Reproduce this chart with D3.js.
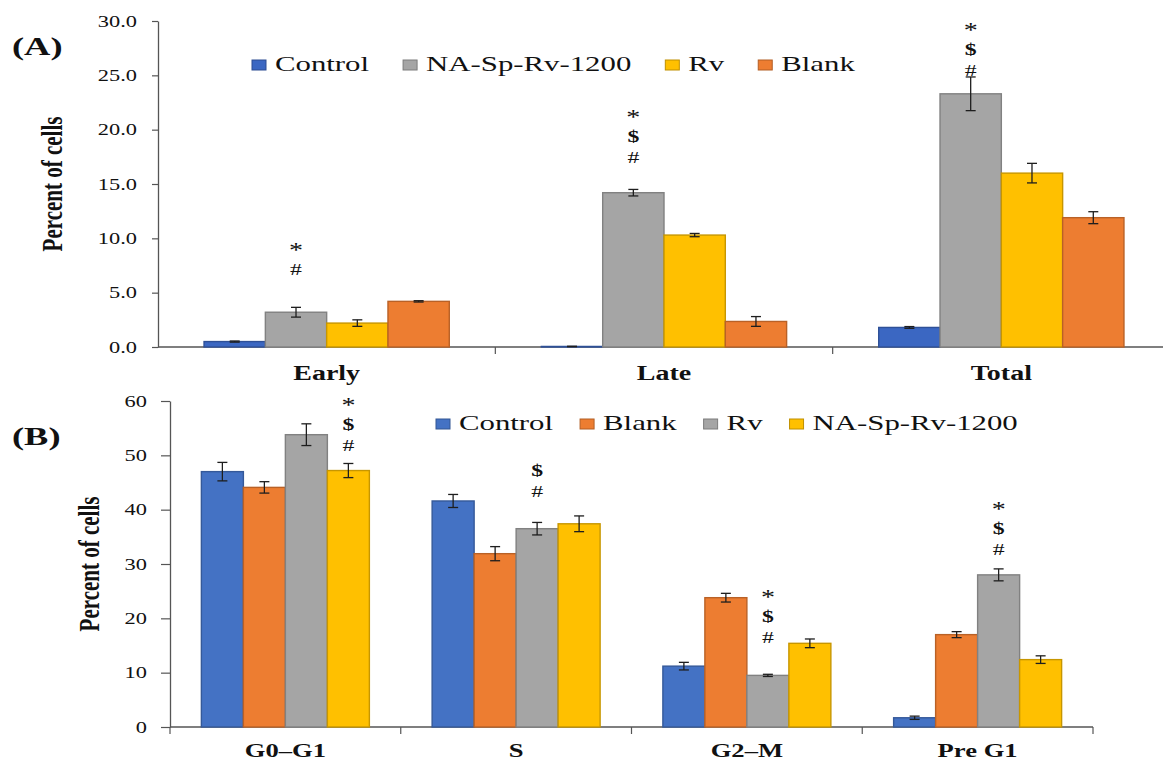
<!DOCTYPE html>
<html>
<head>
<meta charset="utf-8">
<script src="https://cdn.jsdelivr.net/npm/d3@7"></script>
<style>
  html, body { margin: 0; padding: 0; background: #ffffff; }
  svg { display: block; }
  text { font-family: "Liberation Serif", "Times New Roman", serif; fill: #111; }
</style>
</head>
<body>
<svg id="chart" width="1163" height="763"></svg>
<script>
// ---- Panel A: apoptosis stages ----
const phasesA = ["Early", "Late", "Total"];
const seriesA = ["Control", "NA-Sp-Rv-1200", "Rv", "Blank"];
const colorsA = ["#3b67c2", "#a5a5a5", "#ffc000", "#ed7d31"];
const controlA = [0.5, 0.05, 1.8];
const controlErrA = [0.05, 0.02, 0.08];
const naSpRvA = [3.2, 14.2, 23.3];
const naSpRvErrA = [0.45, 0.3, 1.55];
const rvA = [2.2, 10.3, 16.0];
const rvErrA = [0.3, 0.15, 0.9];
const blankA = [4.2, 2.35, 11.9];
const blankErrA = [0.06, 0.45, 0.55];
const ticksA = [0, 5, 10, 15, 20, 25, 30];
// significance marks: category, series, symbols (top to bottom), level of lowest symbol (%)
const marksA = [
  { phase: "Early", series: "NA-Sp-Rv-1200", symbols: ["*", "#"], level: 7.2 },
  { phase: "Late", series: "NA-Sp-Rv-1200", symbols: ["*", "$", "#"], level: 17.5 },
  { phase: "Total", series: "NA-Sp-Rv-1200", symbols: ["*", "$", "#"], level: 25.5 }
];

// ---- Panel B: cell cycle phases ----
const phasesB = ["G0–G1", "S", "G2–M", "Pre G1"];
const seriesB = ["Control", "Blank", "Rv", "NA-Sp-Rv-1200"];
const colorsB = ["#4472c4", "#ed7d31", "#a5a5a5", "#ffc000"];
const controlB = [47.0, 41.6, 11.2, 1.7];
const controlErrB = [1.7, 1.2, 0.7, 0.3];
const blankB = [44.1, 31.9, 23.8, 17.0];
const blankErrB = [1.05, 1.3, 0.8, 0.55];
const rvB = [53.8, 36.5, 9.5, 28.0];
const rvErrB = [2.0, 1.15, 0.2, 1.1];
const naSpRvB = [47.2, 37.4, 15.4, 12.4];
const naSpRvErrB = [1.3, 1.45, 0.8, 0.7];
const ticksB = [0, 10, 20, 30, 40, 50, 60];
const marksB = [
  { phase: "G0–G1", series: "NA-Sp-Rv-1200", symbols: ["*", "$", "#"], level: 51.9 },
  { phase: "S", series: "Rv", symbols: ["$", "#"], level: 43.5 },
  { phase: "G2–M", series: "Rv", symbols: ["*", "$", "#"], level: 16.6 },
  { phase: "Pre G1", series: "Rv", symbols: ["*", "$", "#"], level: 32.8 }
];

const SX = 1.4;            // horizontal stretch of the lettering
const AXIS = "#555";
const svg = d3.select("#chart");

// text drawn with a horizontal stretch around its anchor point
function wideText(parent, x, y, str, opts = {}) {
  const g = parent.append("g").attr("transform", `translate(${x},${y}) scale(${SX},1)`);
  const t = g.append("text")
    .attr("text-anchor", opts.anchor || "start")
    .attr("font-size", opts.size || 16)
    .attr("font-weight", opts.weight || "normal")
    .text(str);
  return t;
}

function panel(cfg) {
  const g = svg.append("g");
  const x0 = d3.scaleBand().domain(cfg.phases).range([cfg.left, cfg.right]);
  const gw = x0.bandwidth() * cfg.groupFrac;
  const x1 = d3.scaleBand().domain(cfg.series)
    .range([(x0.bandwidth() - gw) / 2, (x0.bandwidth() + gw) / 2]);
  const y = d3.scaleLinear().domain(cfg.domain).range([cfg.bottom, cfg.top]);
  const color = d3.scaleOrdinal().domain(cfg.series).range(cfg.colors);

  // y axis
  const ya = g.append("g").attr("transform", `translate(${cfg.left},0)`)
    .call(d3.axisLeft(y).tickValues(cfg.ticks).tickSize(cfg.tickLen).tickSizeOuter(0)
      .tickFormat(cfg.fmt));
  ya.select(".domain").attr("stroke", AXIS).attr("stroke-width", 1.3);
  ya.selectAll(".tick line").attr("stroke", AXIS).attr("stroke-width", 1.2);
  ya.selectAll(".tick text")
    .attr("font-family", "Liberation Serif, Times New Roman, serif")
    .attr("font-size", 16).attr("fill", "#222")
    .attr("x", -cfg.labelGap / SX)
    .attr("transform", `scale(${SX},1)`);

  // x axis baseline and category boundary ticks
  g.append("line").attr("x1", cfg.left).attr("x2", cfg.right)
    .attr("y1", y(0)).attr("y2", y(0)).attr("stroke", AXIS).attr("stroke-width", 1.3);
  const bounds = cfg.phases.map(p => x0(p) + x0.bandwidth());
  if (cfg.tickAtStart) bounds.unshift(cfg.left);
  g.selectAll(".xt").data(bounds).join("line")
    .attr("x1", d => d).attr("x2", d => d)
    .attr("y1", y(0)).attr("y2", y(0) + 7)
    .attr("stroke", AXIS).attr("stroke-width", 1.2);

  // bars
  const rows = [];
  cfg.phases.forEach((p, i) => {
    cfg.series.forEach((s, j) => {
      rows.push({ phase: p, series: s, value: cfg.values[j][i], err: cfg.errors[j][i] });
    });
  });
  g.selectAll(".bar").data(rows).join("rect")
    .attr("x", d => x0(d.phase) + x1(d.series))
    .attr("y", d => y(d.value))
    .attr("width", x1.bandwidth())
    .attr("height", d => y(0) - y(d.value))
    .attr("fill", d => color(d.series))
    .attr("stroke", d => d3.color(color(d.series)).darker(0.7))
    .attr("stroke-width", 1.4);

  // error bars
  const cap = 5;
  const eb = g.selectAll(".err").data(rows.filter(d => d.err > 0)).join("g")
    .attr("stroke", "#1e1e1e").attr("stroke-width", 1.3);
  const cx = d => x0(d.phase) + x1(d.series) + x1.bandwidth() / 2;
  eb.append("line").attr("x1", cx).attr("x2", cx)
    .attr("y1", d => y(d.value + d.err)).attr("y2", d => y(d.value - d.err));
  eb.append("line").attr("x1", d => cx(d) - cap).attr("x2", d => cx(d) + cap)
    .attr("y1", d => y(d.value + d.err)).attr("y2", d => y(d.value + d.err));
  eb.append("line").attr("x1", d => cx(d) - cap).attr("x2", d => cx(d) + cap)
    .attr("y1", d => y(d.value - d.err)).attr("y2", d => y(d.value - d.err));

  // significance symbols
  cfg.marks.forEach(m => {
    const mx = x0(m.phase) + x1(m.series) + x1.bandwidth() / 2;
    const n = m.symbols.length;
    m.symbols.forEach((sym, k) => {
      const cy = y(m.level) - (n - 1 - k) * 21;
      const star = sym === "*";
      wideText(g, mx, cy + (star ? 9 : 6), sym, {
        anchor: "middle", size: star ? 20 : 17, weight: sym === "$" ? "bold" : "normal"
      });
    });
  });

  // category labels
  cfg.phases.forEach(p => {
    wideText(g, x0(p) + x0.bandwidth() / 2, cfg.catY, p, { anchor: "middle", size: cfg.catSize, weight: "bold" });
  });

  // y axis title (rotated, stretched across the glyph height)
  g.append("g")
    .attr("transform", `translate(${cfg.titleX},${(cfg.top + cfg.bottom) / 2}) rotate(-90) scale(1,${SX})`)
    .append("text").attr("text-anchor", "middle").attr("dy", "0.35em")
    .attr("font-size", 21).attr("font-weight", "bold").text("Percent of cells");

  // panel letter
  wideText(g, 12, cfg.letterY, cfg.letter, { size: 26, weight: "bold" });

  // legend
  let lx = cfg.legendX;
  cfg.series.forEach((s, j) => {
    g.append("rect").attr("x", lx).attr("y", cfg.legendY - 11).attr("width", 14).attr("height", 10)
      .attr("fill", color(s)).attr("stroke", d3.color(color(s)).darker(0.8)).attr("stroke-width", 1);
    const t = wideText(g, lx + 23, cfg.legendY, s, { size: 22 });
    lx += 23 + t.node().getComputedTextLength() * SX + cfg.legendGap;
  });
}

panel({
  phases: phasesA, series: seriesA, colors: colorsA,
  values: [controlA, naSpRvA, rvA, blankA],
  errors: [controlErrA, naSpRvErrA, rvErrA, blankErrA],
  ticks: ticksA, domain: [0, 30], fmt: d3.format(".1f"),
  left: 158, right: 1170, top: 21, bottom: 347, groupFrac: 0.727,
  tickLen: 6, labelGap: 21, marks: marksA, catY: 380, catSize: 20, titleX: 52,
  letter: "(A)", letterY: 55, legendX: 252, legendY: 71, legendGap: 34
});

panel({
  phases: phasesB, series: seriesB, colors: colorsB,
  values: [controlB, blankB, rvB, naSpRvB],
  errors: [controlErrB, blankErrB, rvErrB, naSpRvErrB],
  ticks: ticksB, domain: [0, 60], fmt: d3.format("d"),
  left: 170, right: 1093, top: 401, bottom: 727, groupFrac: 0.728,
  tickLen: 9, labelGap: 23, marks: marksB, catY: 757, catSize: 19, titleX: 89, tickAtStart: true,
  letter: "(B)", letterY: 445, legendX: 436, legendY: 430, legendGap: 27
});
</script>
</body>
</html>
